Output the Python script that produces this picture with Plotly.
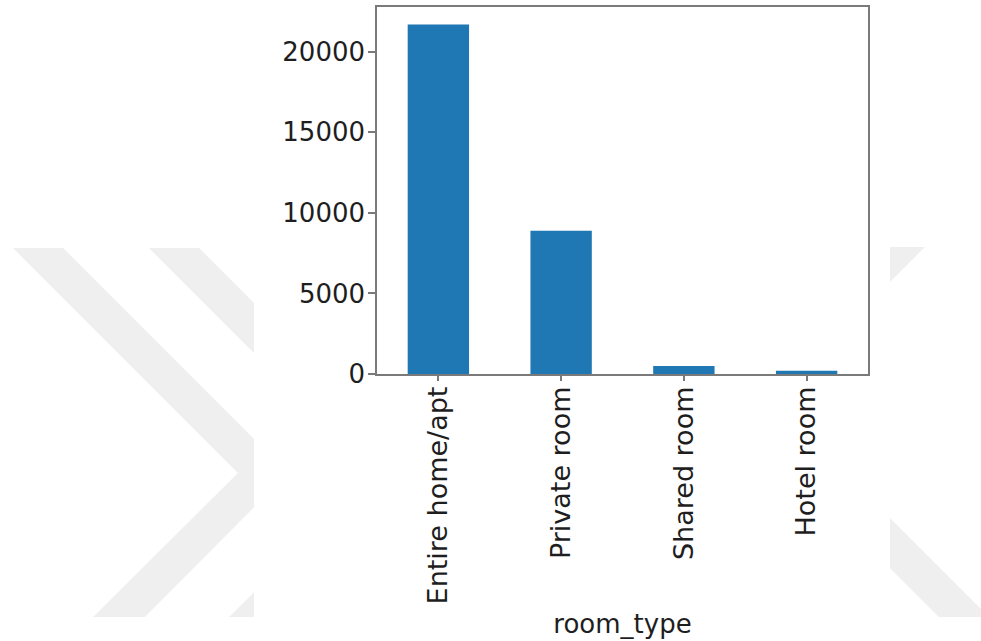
import plotly.graph_objects as go

# Listing counts per room type
room_types = ["Entire home/apt", "Private room", "Shared room", "Hotel room"]
listing_counts = [21700, 8900, 500, 200]
y_tick_values = [0, 5000, 10000, 15000, 20000]
y_tick_labels = ["0", "5000", "10000", "15000", "20000"]

W, H = 981, 641
ML, MR, MT, MB = 377, 113, 7, 267
PW, PH = W - ML - MR, H - MT - MB


def to_paper(px, py):
    """Convert page pixel coordinates to paper coordinates."""
    return (px - ML) / PW, (H - MB - py) / PH


def poly_path(points):
    pts = [to_paper(x, y) for x, y in points]
    return "M " + " L ".join(f"{x:.5f},{y:.5f}" for x, y in pts) + " Z"


# Light chevron background decoration
band_color = "#efefef"
chevrons = [
    [(13, 248), (63, 248), (288, 473), (145, 617), (93, 617), (238, 473)],
    [(149, 248), (199, 248), (424, 473), (281, 617), (229, 617), (374, 473)],
    [(875, 247), (925, 247), (772, 400), (989, 617), (939, 617), (722, 400)],
]
shapes = [
    dict(type="path", path=poly_path(c), xref="paper", yref="paper",
         fillcolor=band_color, line=dict(width=0), layer="below")
    for c in chevrons
]
x0, y0 = to_paper(254, 641)
x1, y1 = to_paper(890, 0)
shapes.append(dict(type="rect", xref="paper", yref="paper", x0=x0, y0=y0,
                   x1=x1, y1=y1, fillcolor="white", line=dict(width=0),
                   layer="below"))

fig = go.Figure(
    go.Bar(
        x=list(range(len(room_types))),
        y=listing_counts,
        width=0.5,
        marker=dict(color="#1f77b4", line=dict(width=0)),
    )
)

axis_color = "#7a7a7a"
text_color = "#1e1e1e"
font_family = "DejaVu Sans"

fig.update_layout(
    width=W,
    height=H,
    margin=dict(l=ML, r=MR, t=MT, b=MB, autoexpand=False),
    paper_bgcolor="white",
    plot_bgcolor="rgba(0,0,0,0)",
    showlegend=False,
    font=dict(family=font_family, size=26, color=text_color),
    shapes=shapes,
    xaxis=dict(
        range=[-0.5, len(room_types) - 0.5],
        tickmode="array",
        tickvals=list(range(len(room_types))),
        ticktext=room_types,
        tickangle=-90,
        ticks="outside",
        ticklen=5,
        tickwidth=1.5,
        tickcolor=axis_color,
        showline=True,
        linecolor=axis_color,
        linewidth=1.5,
        mirror=True,
        showgrid=False,
        zeroline=False,
        automargin=False,
        ticklabelstandoff=-5,
        tickfont=dict(size=27, color=text_color),
        title=dict(text="room_type", font=dict(size=26, color=text_color),
                   standoff=11),
    ),
    yaxis=dict(
        range=[0, 22785],
        tickmode="array",
        tickvals=y_tick_values,
        ticktext=y_tick_labels,
        ticks="outside",
        ticklen=7,
        tickwidth=1.5,
        tickcolor=axis_color,
        showline=True,
        linecolor=axis_color,
        linewidth=1.5,
        mirror=True,
        showgrid=False,
        zeroline=False,
        automargin=False,
        ticklabelstandoff=-2,
        tickfont=dict(size=26, color=text_color),
    ),
)

fig.write_html("out.html")
